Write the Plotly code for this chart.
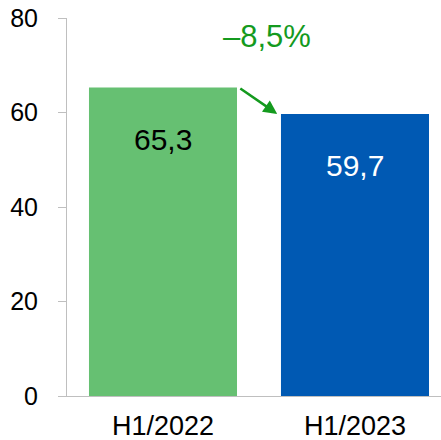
import plotly.graph_objects as go

categories = ["H1/2022", "H1/2023"]
values = [65.3, 59.7]
value_labels = ["65,3", "59,7"]
bar_colors = ["#66C072", "#0059B3"]
label_colors = ["#000000", "#FFFFFF"]
change_label = "–8,5%"
y_ticks = [0, 20, 40, 60, 80]

fig = go.Figure()
fig.add_trace(go.Bar(
    x=categories, y=values,
    marker=dict(color=bar_colors, line=dict(width=0)),
    hoverinfo="skip",
))

for c, v, t, col in zip(categories, values, value_labels, label_colors):
    fig.add_annotation(x=c, y=v, text=t, showarrow=False, yshift=-52,
                       font=dict(size=30, color=col, family="Liberation Sans, Arial"))

fig.add_annotation(x=0.54, y=80, text=change_label, showarrow=False, yshift=-18,
                   font=dict(size=31, color="#149A1E", family="Liberation Sans, Arial"))

fig.add_annotation(x=0.595, y=values[1], ax=0.395, ay=values[0],
                   xref="x", yref="y", axref="x", ayref="y",
                   text="", showarrow=True, arrowhead=2, arrowsize=1.1,
                   arrowwidth=2.5, arrowcolor="#149A1E", standoff=0)

fig.update_layout(
    width=441, height=440,
    margin=dict(l=67, r=0, t=18, b=44, autoexpand=False),
    paper_bgcolor="white", plot_bgcolor="white",
    bargap=0.229, showlegend=False,
    font=dict(family="Liberation Sans, Arial", size=26, color="#000000"),
)
fig.update_xaxes(type="category", range=[-0.5, 1.448], showline=True, linecolor="#BFBFBF",
                 linewidth=1, ticks="", tickfont=dict(size=27), showgrid=False,
                 automargin=False, ticklabelstandoff=6)
fig.update_yaxes(range=[0, 80], tickvals=y_ticks, showline=True, linecolor="#BFBFBF",
                 linewidth=1, ticks="outside", ticklen=8, tickcolor="#BFBFBF",
                 showgrid=False, zeroline=False, tickfont=dict(size=25),
                 ticklabelstandoff=15, automargin=False, ticklabeloverflow="allow")

fig.write_html("out.html", config={"displayModeBar": False},
               post_script="document.body.style.margin='0';")
